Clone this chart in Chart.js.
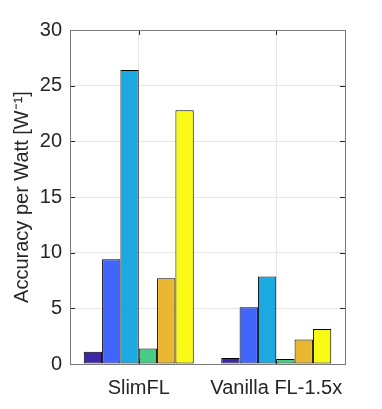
<!DOCTYPE html>
<html>
<head>
<meta charset="utf-8">
<script src="https://cdn.jsdelivr.net/npm/chart.js@4"></script>
<style>
  html, body { margin: 0; padding: 0; background: #fff; }
  #wrap { width: 382px; height: 409px; }
</style>
</head>
<body>
<div id="wrap"><canvas id="bar-chart"></canvas></div>
<script>
const categories = ['SlimFL', 'Vanilla FL-1.5x'];
const seriesA = [1.1, 0.55];
const seriesB = [9.4, 5.1];
const seriesC = [26.4, 7.85];
const seriesD = [1.4, 0.45];
const seriesE = [7.7, 2.2];
const seriesF = [22.8, 3.15];
const yTicks = [0, 5, 10, 15, 20, 25, 30];

const colors = ['#3e26a8', '#4266fb', '#1ba9df', '#47cb87', '#eab732', '#f8f914'];
const allSeries = [seriesA, seriesB, seriesC, seriesD, seriesE, seriesF];

Chart.defaults.font.family = '"Liberation Sans", Arial, sans-serif';
Chart.defaults.color = '#262626';

// matlab style box + inward ticks
const frame = {
  id: 'frame',
  afterDatasetsDraw(chart) {
    const { ctx, chartArea: a, scales } = chart;
    ctx.save();
    ctx.strokeStyle = '#262626';
    ctx.lineWidth = 1;
    ctx.beginPath();
    yTicks.forEach(v => {
      const y = Math.round(scales.y.getPixelForValue(v)) + 0.5;
      ctx.moveTo(a.left, y); ctx.lineTo(a.left + 5, y);
      ctx.moveTo(a.right, y); ctx.lineTo(a.right - 5, y);
    });
    categories.forEach((c, i) => {
      const x = Math.round(scales.x.getPixelForValue(i)) + 0.5;
      ctx.moveTo(x, a.top); ctx.lineTo(x, a.top + 5);
      ctx.moveTo(x, a.bottom); ctx.lineTo(x, a.bottom - 5);
    });
    ctx.stroke();
    ctx.strokeStyle = '#7a7a7a';
    ctx.strokeRect(Math.round(a.left) + 0.5, Math.round(a.top) + 0.5,
      Math.round(a.right - a.left), Math.round(a.bottom - a.top));
    ctx.restore();
  }
};

const bar_chart = new Chart(document.querySelector('#bar-chart'), {
  type: 'bar',
  data: {
    labels: categories,
    datasets: allSeries.map((s, i) => ({
      data: s,
      backgroundColor: colors[i],
      borderColor: '#000',
      borderWidth: 1,
      borderSkipped: false,
      inflateAmount: 0,
      categoryPercentage: 0.8,
      barPercentage: 1.0,
    }))
  },
  options: {
    responsive: true,
    maintainAspectRatio: false,
    animation: false,
    layout: { padding: { top: 30, right: 37, left: 0, bottom: 0 } },
    plugins: {
      legend: { display: false },
      tooltip: { enabled: false }
    },
    scales: {
      x: {
        grid: { offset: false, color: '#e6e6e6', drawTicks: false },
        border: { display: false },
        ticks: { font: { size: 20 }, padding: 12, maxRotation: 0 },
        afterFit: s => { s.height = 45; }
      },
      y: {
        min: 0,
        max: 30,
        afterBuildTicks: s => { s.ticks = yTicks.map(v => ({ value: v })); },
        grid: { color: '#e6e6e6', drawTicks: false },
        border: { display: false },
        ticks: { font: { size: 20 }, padding: 8 },
        title: {
          display: true,
          text: 'Accuracy per Watt [W\u207B\u00B9]',
          font: { size: 20 },
          padding: { top: 10, bottom: 0 }
        },
        afterFit: s => { s.width = 70; }
      }
    }
  },
  plugins: [frame]
});
</script>
</body>
</html>
